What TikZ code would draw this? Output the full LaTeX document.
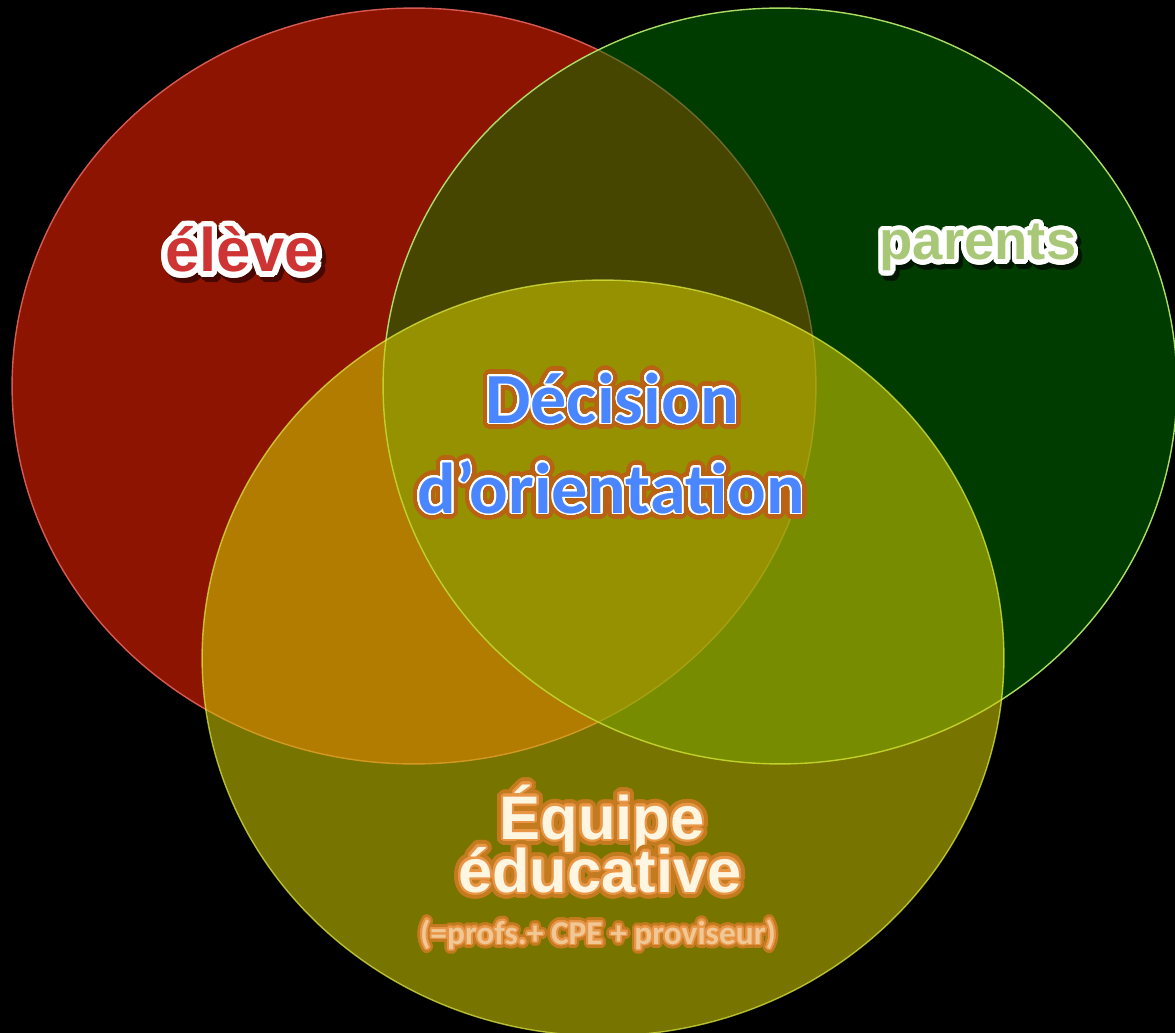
\documentclass[tikz,border=0pt]{standalone}
\usepackage{fontspec}
\setmainfont{Liberation Sans}
\newfontfamily\calibri{Carlito}
\usepackage{contour}
\contournumber{32}
\definecolor{redset}{RGB}{140,20,0}
\definecolor{greenset}{RGB}{0,122,0}
\definecolor{yellowset}{RGB}{207,200,0}
\definecolor{redline}{RGB}{214,90,80}
\definecolor{greenline}{RGB}{172,220,100}
\definecolor{yellowline}{RGB}{226,240,70}
\definecolor{eleveRed}{RGB}{206,52,52}
\definecolor{eleveShadow}{RGB}{70,8,0}
\definecolor{parentsGreen}{RGB}{168,200,120}
\definecolor{parentsShadow}{RGB}{0,22,0}
\definecolor{decBlue}{RGB}{74,134,255}
\definecolor{decGlow}{RGB}{186,98,20}
\definecolor{eqCream}{RGB}{255,246,226}
\definecolor{eqOrange}{RGB}{232,150,70}
\definecolor{eqGlow}{RGB}{196,122,30}
\definecolor{eqBeige}{RGB}{240,200,150}
\newcommand{\halo}[3]{\contourlength{#1}\contour{#2}{#3}}
\tikzset{
  lbl/.style={anchor=base, inner sep=0pt, outer sep=0pt},
  bigsans/.style={font=\bfseries\fontsize{35}{40}\selectfont},
  decfont/.style={font=\calibri\bfseries\fontsize{41}{46}\selectfont},
  smallfont/.style={font=\calibri\bfseries\fontsize{19}{22}\selectfont}
}
\begin{document}
\begin{tikzpicture}[x=0.02cm, y=-0.02cm]
  \useasboundingbox (0,0) rectangle (1175,1033);
  \clip (0,0) rectangle (1175,1033);
  \fill[black] (0,0) rectangle (1175,1033);
  % the three sets
  \draw[redline, line width=0.8pt, fill=redset] (414,386) ellipse [x radius=8.04cm, y radius=7.56cm];
  \draw[greenline, line width=0.8pt, fill=greenset, fill opacity=0.49] (780,386) ellipse [x radius=7.94cm, y radius=7.56cm];
  \draw[yellowline, line width=0.8pt, draw opacity=0.7, fill=yellowset, fill opacity=0.58] (603,658) ellipse [x radius=8.02cm, y radius=7.56cm];
  % eleve
  \node[lbl, bigsans] (eleve-sh) at (246,277) {\halo{3.2pt}{eleveShadow}{\textcolor{eleveShadow}{élève}}};
  \node[lbl, bigsans] (eleve) at (242,272) {\halo{3.2pt}{white}{\textcolor{eleveRed}{élève}}};
  % parents
  \node[lbl, bigsans, font=\bfseries\fontsize{31}{36}\selectfont] (parents-sh) at (982,265) {\halo{2.6pt}{parentsShadow}{\textcolor{parentsShadow}{parents}}};
  \node[lbl, bigsans, font=\bfseries\fontsize{31}{36}\selectfont] (parents) at (978,260) {\halo{2.6pt}{white}{\textcolor{parentsGreen}{parents}}};
  % decision
  \node[lbl, decfont] (deci-glow) at (612,423) {\halo{3.5pt}{decGlow}{\textcolor{decGlow}{Décision}}};
  \node[lbl, decfont] (deci) at (deci-glow.base) {\halo{1pt}{white}{\textcolor{decBlue}{Décision}}};
  \node[lbl, decfont] (orient-glow) at (611,513) {\halo{3.5pt}{decGlow}{\textcolor{decGlow}{d’orientation}}};
  \node[lbl, decfont] (orient) at (orient-glow.base) {\halo{1pt}{white}{\textcolor{decBlue}{d’orientation}}};
  % equipe
  \node[lbl, bigsans] (equipe-glow) at (602,839) {\halo{3.5pt}{eqGlow}{\textcolor{eqGlow}{Équipe}}};
  \node[lbl, bigsans] (equipe) at (equipe-glow.base) {\halo{1.2pt}{eqOrange}{\textcolor{eqCream}{Équipe}}};
  \node[lbl, bigsans] (educ-glow) at (600,892) {\halo{3.5pt}{eqGlow}{\textcolor{eqGlow}{éducative}}};
  \node[lbl, bigsans] (educ) at (educ-glow.base) {\halo{1.2pt}{eqOrange}{\textcolor{eqCream}{éducative}}};
  \node[lbl, smallfont] (profs-glow) at (598,944) {\halo{2.5pt}{eqGlow}{\textcolor{eqGlow}{(=profs.+ CPE + proviseur)}}};
  \node[lbl, smallfont] (profs) at (profs-glow.base) {\halo{1pt}{eqOrange}{\textcolor{eqBeige}{(=profs.+ CPE + proviseur)}}};
\end{tikzpicture}
\end{document}
